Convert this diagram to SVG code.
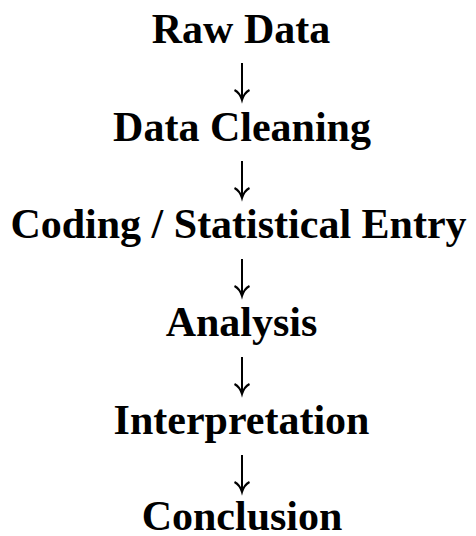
<svg xmlns="http://www.w3.org/2000/svg" width="476" height="536" viewBox="0 0 476 536">
  <style>
    .step { font-family: "Liberation Serif", "Times New Roman", serif; font-weight: bold; font-size: 42px; fill: #000; text-anchor: middle; }
    .arrow { fill: none; stroke: #000; stroke-width: 2; stroke-linejoin: miter; stroke-linecap: butt; }
  </style>
  <defs>
    <!-- one downward arrow, 37px tall, tip at y=37 -->
    <path id="down" class="arrow" d="M0 0 V36 M-7.5 27 Q-2 30 0 37 Q2 30 7.5 27"/>
  </defs>
  <rect width="476" height="536" fill="#fff"/>
  <g id="raw-data"><text class="step" x="241" y="43">Raw Data</text></g>
  <g id="data-cleaning"><text class="step" x="242" y="141">Data Cleaning</text></g>
  <g id="coding-entry"><text class="step" x="238.5" y="238">Coding / Statistical Entry</text></g>
  <g id="analysis"><text class="step" x="241.5" y="336">Analysis</text></g>
  <g id="interpretation"><text class="step" x="241.5" y="434">Interpretation</text></g>
  <g id="conclusion"><text class="step" x="242" y="530">Conclusion</text></g>
  <g id="connectors">
    <use href="#down" x="242" y="63"/>
    <use href="#down" x="242" y="161"/>
    <use href="#down" x="242" y="259"/>
    <use href="#down" x="242" y="357"/>
    <use href="#down" x="242" y="455"/>
  </g>
</svg>
